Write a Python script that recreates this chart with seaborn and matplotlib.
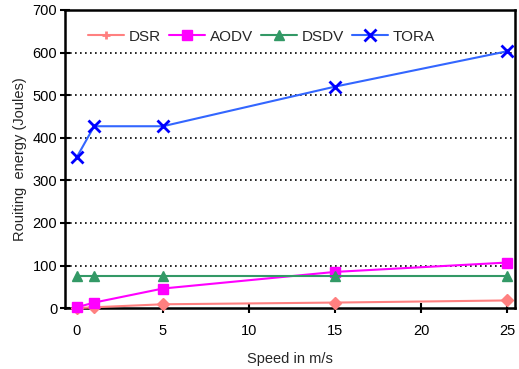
import pandas as pd
import seaborn as sns
import matplotlib.pyplot as plt
from matplotlib.lines import Line2D

speed = [0, 1, 5, 15, 25]
dsr = [0, 2, 9, 13, 18]
aodv = [2, 13, 46, 85, 107]
dsdv = [75, 75, 75, 75, 75]
tora = [355, 427, 427, 520, 603]

protocols = ["DSR", "AODV", "DSDV", "TORA"]
line_colors = ["#FF8080", "#FF00FF", "#339966", "#3366FF"]
marker_colors = ["#FF8080", "#FF00FF", "#339966", "#0000FF"]
markers = ["D", "s", "^", "x"]
legend_markers = ["+", "s", "^", "x"]
marker_sizes = [6, 7, 7, 8]

df = pd.DataFrame({"Speed": speed, "DSR": dsr, "AODV": aodv, "DSDV": dsdv, "TORA": tora})

sns.set_style("ticks")
plt.rcParams["font.family"] = ["Liberation Sans", "DejaVu Sans"]
plt.rcParams["font.size"] = 10

fig = plt.figure(figsize=(5.19, 3.69), dpi=100)
ax = fig.add_axes([0.125, 0.165, 0.867, 0.808])

for i, p in enumerate(protocols):
    sns.lineplot(
        x="Speed", y=p, data=df, ax=ax,
        color=line_colors[i], marker=markers[i],
        markersize=marker_sizes[i], markerfacecolor=marker_colors[i],
        markeredgecolor=marker_colors[i], markeredgewidth=2 if markers[i] == "x" else 1,
        linewidth=1.5, clip_on=False, zorder=3,
    )

ax.set_xlim(-0.7, 25.45)
ax.set_ylim(0, 700)
ax.set_xticks([0, 5, 10, 15, 20, 25])
ax.set_yticks(range(0, 701, 100))
for y in range(100, 700, 100):
    ax.axhline(y, color="black", linestyle=(0, (1, 2)), linewidth=1.2, zorder=1)

for s in ax.spines.values():
    s.set_linewidth(1.8)
    s.set_color("black")
ax.tick_params(direction="inout", length=7, width=1.5, colors="black", labelsize=10.5)
ax.tick_params(axis="x", pad=8)
ax.tick_params(axis="y", pad=2)

ax.set_xlabel("Speed in m/s", fontsize=10.5, labelpad=10)
ax.set_ylabel("Rouiting  energy (Joules)", fontsize=10.5, labelpad=4)

handles = [
    Line2D([0], [0], color=line_colors[i], marker=legend_markers[i],
           markersize=marker_sizes[i], markerfacecolor=marker_colors[i],
           markeredgecolor=marker_colors[i], markeredgewidth=2 if legend_markers[i] in "x+" else 1,
           linewidth=1.5)
    for i in range(len(protocols))
]
ax.legend(handles, protocols, loc="upper left", ncol=4, frameon=False,
          fontsize=11, handlelength=2.4, handletextpad=0.3, columnspacing=0.5,
          bbox_to_anchor=(0.02, 0.98))

plt.savefig("out.png", dpi=100)
